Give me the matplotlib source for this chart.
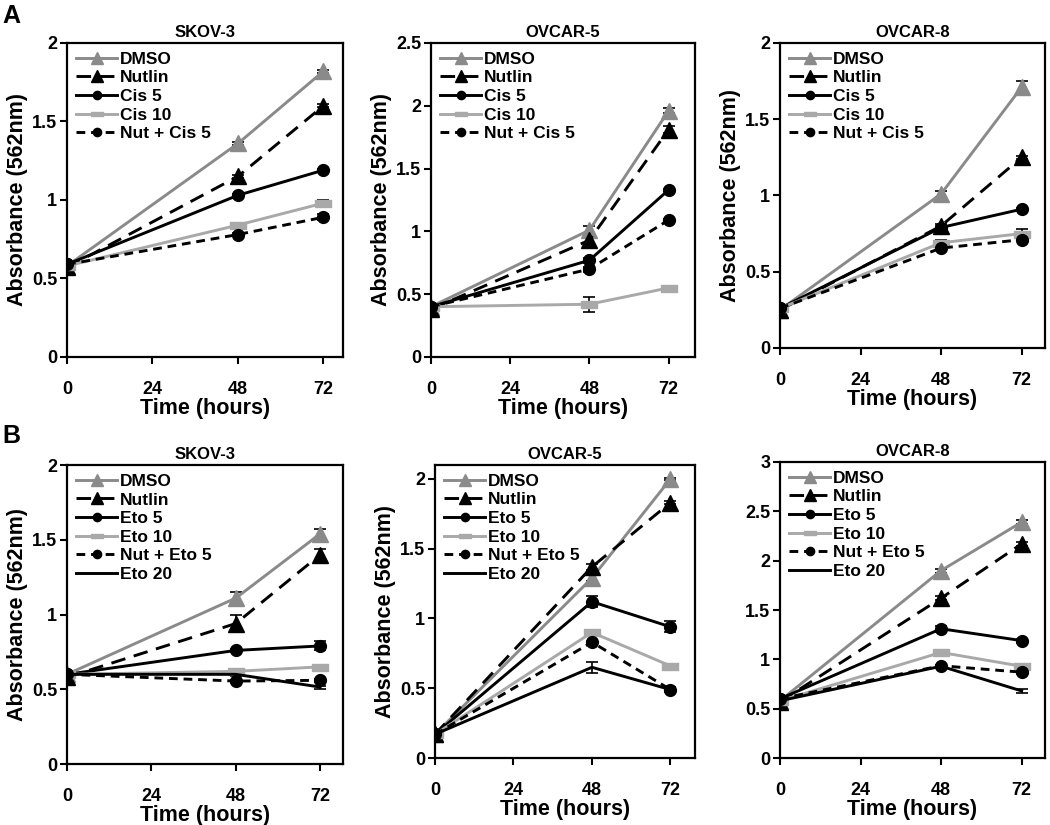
import numpy as np
import matplotlib
matplotlib.use("Agg")
import matplotlib.pyplot as plt

plt.rcParams["font.family"] = ["Liberation Sans", "DejaVu Sans"]
plt.rcParams["font.weight"] = "bold"
plt.rcParams["axes.labelweight"] = "bold"
plt.rcParams["axes.titleweight"] = "bold"

HOURS = [0, 48, 72]
X_TICKS = [0, 24, 48, 72]

A_LABELS = ["DMSO", "Nutlin", "Cis 5", "Cis 10", "Nut + Cis 5"]
B_LABELS = ["DMSO", "Nutlin", "Eto 5", "Eto 10", "Nut + Eto 5", "Eto 20"]

# one row per series, columns = HOURS
A_SKOV3 = [
    [0.58, 1.36, 1.82],
    [0.57, 1.15, 1.60],
    [0.59, 1.03, 1.19],
    [0.58, 0.84, 0.98],
    [0.59, 0.78, 0.89],
]
A_SKOV3_ERR = [
    [0, 0.01, 0.01],
    [0, 0.01, 0.01],
    [0, 0.01, 0.01],
    [0, 0.01, 0.02],
    [0, 0.01, 0.02],
]
A_OVCAR5 = [
    [0.40, 1.01, 1.96],
    [0.38, 0.93, 1.81],
    [0.40, 0.77, 1.33],
    [0.40, 0.42, 0.55],
    [0.40, 0.70, 1.09],
]
A_OVCAR5_ERR = [
    [0, 0.03, 0.02],
    [0, 0.03, 0.03],
    [0, 0.02, 0.01],
    [0, 0.06, 0.01],
    [0, 0.02, 0.01],
]
A_OVCAR8 = [
    [0.25, 1.01, 1.71],
    [0.25, 0.80, 1.25],
    [0.26, 0.79, 0.91],
    [0.26, 0.69, 0.75],
    [0.26, 0.655, 0.71],
]
A_OVCAR8_ERR = [
    [0, 0.02, 0.04],
    [0, 0.01, 0.01],
    [0, 0.01, 0.01],
    [0, 0.02, 0.03],
    [0, 0.01, 0.01],
]
B_SKOV3 = [
    [0.60, 1.11, 1.54],
    [0.58, 0.94, 1.40],
    [0.60, 0.76, 0.79],
    [0.60, 0.62, 0.65],
    [0.60, 0.555, 0.56],
    [0.60, 0.60, 0.515],
]
B_SKOV3_ERR = [
    [0, 0.04, 0.03],
    [0, 0.06, 0.04],
    [0, 0.01, 0.03],
    [0, 0.01, 0.01],
    [0, 0.01, 0.01],
    [0, 0.01, 0.01],
]
B_OVCAR5 = [
    [0.17, 1.29, 2.00],
    [0.17, 1.37, 1.83],
    [0.17, 1.12, 0.94],
    [0.17, 0.90, 0.66],
    [0.17, 0.83, 0.49],
    [0.17, 0.65, 0.49],
]
B_OVCAR5_ERR = [
    [0, 0.02, 0.01],
    [0, 0.02, 0.01],
    [0, 0.04, 0.04],
    [0, 0.01, 0.01],
    [0, 0.01, 0.02],
    [0, 0.04, 0.02],
]
B_OVCAR8 = [
    [0.58, 1.90, 2.39],
    [0.57, 1.62, 2.17],
    [0.60, 1.31, 1.19],
    [0.58, 1.07, 0.93],
    [0.60, 0.935, 0.87],
    [0.58, 0.93, 0.68],
]
B_OVCAR8_ERR = [
    [0, 0.02, 0.02],
    [0, 0.02, 0.02],
    [0, 0.03, 0.02],
    [0, 0.01, 0.01],
    [0, 0.01, 0.02],
    [0, 0.01, 0.02],
]

DARK_GRAY = "#8a8a8a"
LIGHT_GRAY = "#a9a9a9"
RECT = [(-1, -0.42), (1, -0.42), (1, 0.42), (-1, 0.42), (-1, -0.42)]

STYLES = [
    dict(color=DARK_GRAY, ls="-", marker="^", ms=12),
    dict(color="black", ls=(0, (5, 3)), marker="^", ms=12),
    dict(color="black", ls="-", marker="o", ms=8.5),
    dict(color=LIGHT_GRAY, ls="-", marker=RECT, ms=12),
    dict(color="black", ls=(0, (3, 2)), marker="o", ms=8.5),
    dict(color="black", ls="-", marker=None, ms=0),
]

# (title, labels, values, errors, ylim top, ytick step, xlim top, rect, ylabel)
PANELS = [
    ("SKOV-3", A_LABELS, A_SKOV3, A_SKOV3_ERR, 2.0, 0.5, 77.5,
     [0.0638, 0.5673, 0.2629, 0.3806], True),
    ("OVCAR-5", A_LABELS, A_OVCAR5, A_OVCAR5_ERR, 2.5, 0.5, 80,
     [0.4105, 0.5673, 0.2514, 0.3806], True),
    ("OVCAR-8", A_LABELS, A_OVCAR8, A_OVCAR8_ERR, 2.0, 0.5, 79,
     [0.7429, 0.5782, 0.2524, 0.3697], True),
    ("SKOV-3", B_LABELS, B_SKOV3, B_SKOV3_ERR, 2.0, 0.5, 78.5,
     [0.0638, 0.0739, 0.2629, 0.3624], True),
    ("OVCAR-5", B_LABELS, B_OVCAR5, B_OVCAR5_ERR, 2.1, 0.5, 79.5,
     [0.4143, 0.0812, 0.2476, 0.3552], True),
    ("OVCAR-8", B_LABELS, B_OVCAR8, B_OVCAR8_ERR, 3.0, 0.5, 79,
     [0.7429, 0.0812, 0.2524, 0.3588], False),
]


def fmt(v):
    return f"{v:g}"


fig = plt.figure(figsize=(10.5, 8.25), dpi=100)

for title, labels, values, errors, ytop, ystep, xtop, rect, has_ylabel in PANELS:
    ax = fig.add_axes(rect)
    for i, lab in enumerate(labels):
        st = STYLES[i]
        ax.errorbar(HOURS, values[i], yerr=errors[i], color=st["color"],
                    ls=st["ls"], lw=2.1, marker=st["marker"], ms=st["ms"],
                    mfc=st["color"], mec=st["color"], ecolor="black",
                    elinewidth=1.2, capsize=4, capthick=1.2, label=lab)
    ax.set_xlim(0, xtop)
    ax.set_ylim(0, ytop)
    ax.set_xticks(X_TICKS)
    yt = np.arange(0, ytop + 1e-9, ystep)
    ax.set_yticks(yt)
    ax.set_yticklabels([fmt(v) for v in yt])
    ax.tick_params(axis="both", direction="out", length=5, width=1.5,
                   labelsize=13)
    ax.tick_params(axis="x", pad=12)
    ax.tick_params(axis="y", pad=2)
    for sp in ax.spines.values():
        sp.set_linewidth(1.6)
    ax.set_title(title, fontsize=12, pad=4)
    ax.set_xlabel("Time (hours)", fontsize=15.5, labelpad=0)
    if has_ylabel:
        ax.set_ylabel("Absorbance (562nm)", fontsize=15.5, labelpad=3)

    handles, labs = ax.get_legend_handles_labels()
    handles = [h[0] if isinstance(h, tuple) else h for h in handles]
    leg = ax.legend(handles, labs, loc="upper left", frameon=False,
                    fontsize=12.5, handlelength=2.4, handletextpad=0.15,
                    labelspacing=0.2, borderaxespad=0.2, borderpad=0.3,
                    markerscale=0.7)

fig.text(0.002, 0.995, "A", fontsize=18, fontweight="bold", va="top")
fig.text(0.002, 0.486, "B", fontsize=18, fontweight="bold", va="top")

fig.savefig("out.png", dpi=100)
